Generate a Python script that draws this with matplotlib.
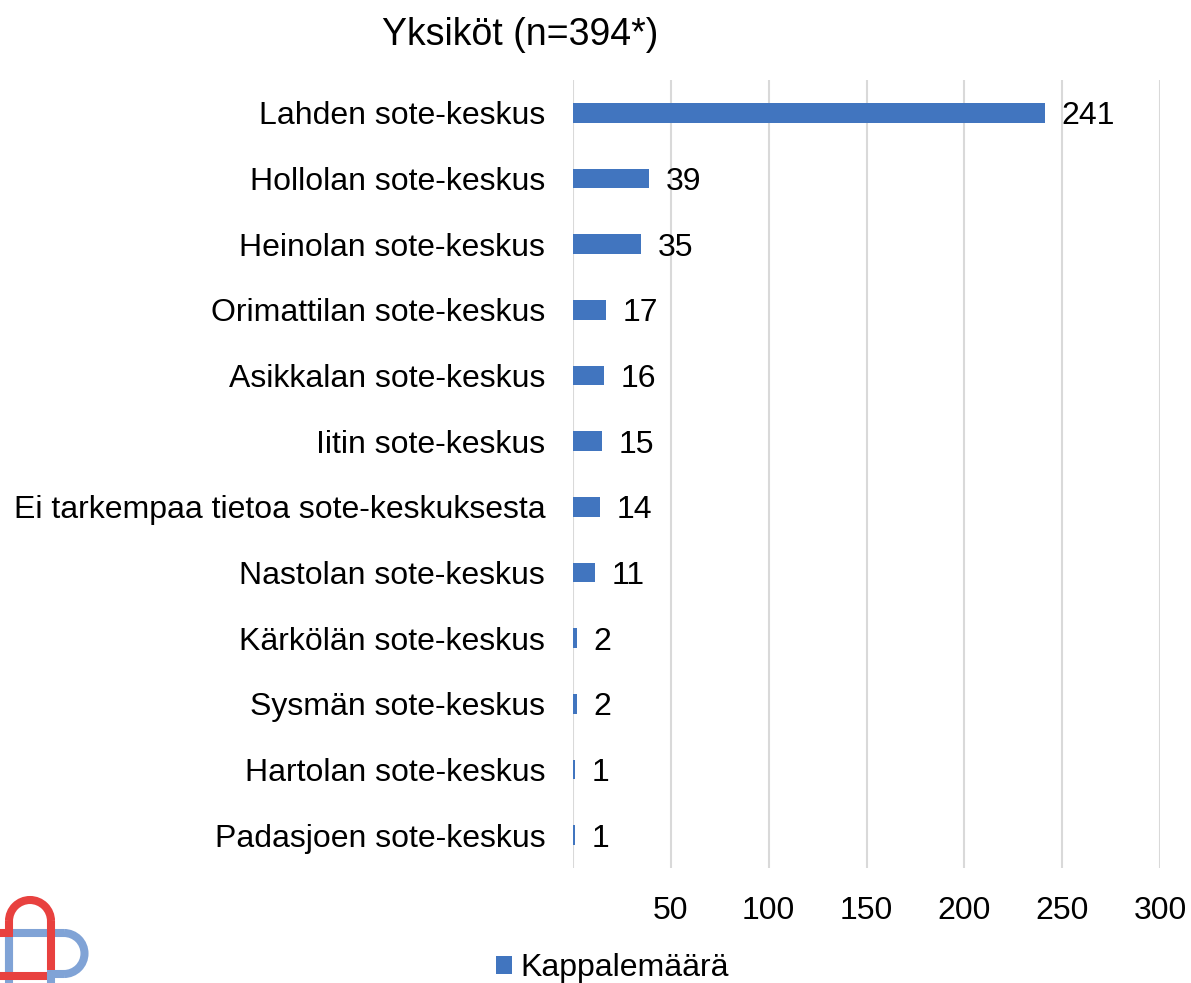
import numpy as np
import matplotlib
matplotlib.use('Agg')
import matplotlib.pyplot as plt
from matplotlib.patches import Arc

plt.rcParams['font.family'] = ['Liberation Sans', 'DejaVu Sans']

categories = ['Lahden sote-keskus', 'Hollolan sote-keskus', 'Heinolan sote-keskus',
              'Orimattilan sote-keskus', 'Asikkalan sote-keskus', 'Iitin sote-keskus',
              'Ei tarkempaa tietoa sote-keskuksesta', 'Nastolan sote-keskus',
              'Kärkölän sote-keskus', 'Sysmän sote-keskus', 'Hartolan sote-keskus',
              'Padasjoen sote-keskus']
values = [241, 39, 35, 17, 16, 15, 14, 11, 2, 2, 1, 1]
ticks = [50, 100, 150, 200, 250, 300]
title = 'Yksiköt (n=394*)'
series_name = 'Kappalemäärä'

W, H = 1191, 983
fs = 23
bar_color = '#4175BF'

fig = plt.figure(figsize=(W / 100, H / 100), dpi=100)
ax = fig.add_axes([573 / W, 1 - 868 / H, (1160 - 573) / W, (868 - 80) / H])

y = np.arange(len(categories))
bars = ax.barh(y, values, height=0.3, color=bar_color, label=series_name, zorder=3)
ax.set_ylim(len(categories) - 0.5, -0.5)
ax.set_xlim(0, 300)

ax.set_yticks(y)
ax.set_yticklabels(categories, fontsize=fs)
ax.set_xticks(ticks)
ax.set_xticklabels([str(t) for t in ticks], fontsize=fs)
ax.tick_params(axis='y', length=0, pad=20)
ax.tick_params(axis='x', length=0, pad=20)

# gridlines, including the one at zero
for gx in [0] + ticks:
    ax.axvline(gx, color='#D9D9D9', lw=1.5, zorder=1)
ax.grid(False)
for s in ax.spines.values():
    s.set_visible(False)

for yi, v in zip(y, values):
    ax.annotate(str(v), (v, yi), xytext=(12, -2.5), textcoords='offset points',
                va='center', ha='left', fontsize=fs)

fig.text(520 / W, 1 - 35 / H, title, ha='center', va='center', fontsize=27)

fig.legend(handles=[bars], labels=[series_name], loc='center left',
           bbox_to_anchor=(496 / W, 1 - 968 / H), frameon=False, fontsize=fs,
           handlelength=0.5, handleheight=0.5, handletextpad=0.25,
           borderpad=0, borderaxespad=0)

# logo in the bottom-left corner, drawn in pixel coordinates (y downwards)
lg = fig.add_axes([0, 0, 1, 1], zorder=-1)
lg.set_xlim(0, W)
lg.set_ylim(H, 0)
lg.axis('off')
red = '#E8413F'
blue = '#80A3D6'
lw = 5.8
# blue D shape
lg.plot([9, 9], [933, 990], color=blue, lw=lw, solid_capstyle='butt')
lg.plot([9, 64], [933, 933], color=blue, lw=lw, solid_capstyle='butt')
lg.plot([47, 64], [974, 974], color=blue, lw=lw, solid_capstyle='butt')
lg.add_patch(Arc((64, 953.5), 41, 41, theta1=-90, theta2=90, color=blue, lw=lw))
# red arch
lg.add_patch(Arc((30, 921), 42, 42, theta1=180, theta2=360, color=red, lw=lw))
lg.plot([9, 9], [921, 933], color=red, lw=lw, solid_capstyle='butt')
lg.plot([51, 51], [921, 970], color=red, lw=lw, solid_capstyle='butt')
lg.plot([0, 13], [933, 933], color=red, lw=lw, solid_capstyle='butt')
lg.plot([9, 9], [937, 972], color=blue, lw=lw, solid_capstyle='butt')
lg.plot([0, 51], [976, 976], color=red, lw=lw, solid_capstyle='butt')
lg.plot([51, 51], [972, 990], color=blue, lw=lw, solid_capstyle='butt')

fig.savefig('out.png', dpi=100)
